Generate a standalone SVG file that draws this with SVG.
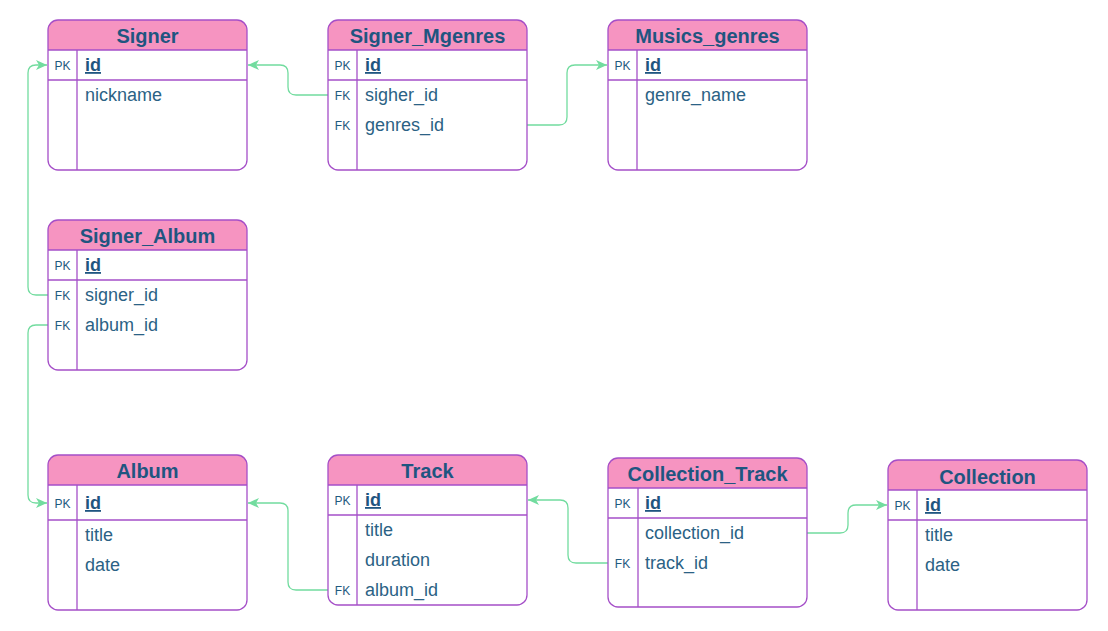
<svg xmlns="http://www.w3.org/2000/svg" width="1108" height="631" viewBox="0 0 1108 631">
<defs>
<style>
.hdr{fill:#f694c1;}
.box{fill:none;stroke:#a54fc8;stroke-width:1.3;}
.ln{stroke:#a54fc8;stroke-width:1.3;fill:none;}
.title{font-family:"Liberation Sans",Arial,sans-serif;font-size:20px;font-weight:bold;fill:#1f5580;text-anchor:middle;}
.key{font-family:"Liberation Sans",Arial,sans-serif;font-size:12px;fill:#1f5a80;text-anchor:middle;}
.fld{font-family:"Liberation Sans",Arial,sans-serif;font-size:18px;fill:#2b6285;}
.pk{font-family:"Liberation Sans",Arial,sans-serif;font-size:18px;fill:#1f5580;font-weight:bold;text-decoration:underline;}
.conn{fill:none;stroke:#72dc9f;stroke-width:1.3;}
</style>
<marker id="arr" markerUnits="userSpaceOnUse" markerWidth="12" markerHeight="10" refX="11" refY="5" orient="auto">
<path d="M0,0 L11,5 L0,10 L3,5 Z" fill="#72dc9f"/>
</marker>
</defs>
<rect width="1108" height="631" fill="#ffffff"/>

<g id="connectors">
<path class="conn" d="M328,95 H296 Q288,95 288,87 V73 Q288,65 280,65 H248" marker-end="url(#arr)"/>
<path class="conn" d="M527,125 H559 Q567,125 567,117 V73 Q567,65 575,65 H607" marker-end="url(#arr)"/>
<path class="conn" d="M48,295 H36 Q28,295 28,287 V73 Q28,65 36,65 H47" marker-end="url(#arr)"/>
<path class="conn" d="M48,325 H36 Q28,325 28,333 V495 Q28,503 36,503 H47" marker-end="url(#arr)"/>
<path class="conn" d="M328,590 H296 Q288,590 288,582 V511 Q288,503 280,503 H248" marker-end="url(#arr)"/>
<path class="conn" d="M608,563 H576 Q568,563 568,555 V508 Q568,500 560,500 H528" marker-end="url(#arr)"/>
<path class="conn" d="M807,533 H840 Q848,533 848,525 V513 Q848,505 856,505 H887" marker-end="url(#arr)"/>
</g>

<g id="Signer">
<path class="hdr" d="M48,50 V30 Q48,20 58,20 H237 Q247,20 247,30 V50 Z"/>
<line class="ln" x1="48" y1="50" x2="247" y2="50"/>
<line class="ln" x1="48" y1="80" x2="247" y2="80"/>
<line class="ln" x1="77" y1="50" x2="77" y2="170"/>
<rect class="box" x="48" y="20" width="199" height="150" rx="10"/>
<text class="title" x="147.5" y="43">Signer</text>
<text class="key" x="62.5" y="69.5">PK</text>
<text class="pk" x="85" y="71">id</text>
<text class="fld" x="85" y="101">nickname</text>
</g>

<g id="Signer_Mgenres">
<path class="hdr" d="M328,50 V30 Q328,20 338,20 H517 Q527,20 527,30 V50 Z"/>
<line class="ln" x1="328" y1="50" x2="527" y2="50"/>
<line class="ln" x1="328" y1="80" x2="527" y2="80"/>
<line class="ln" x1="357" y1="50" x2="357" y2="170"/>
<rect class="box" x="328" y="20" width="199" height="150" rx="10"/>
<text class="title" x="427.5" y="43">Signer_Mgenres</text>
<text class="key" x="342.5" y="69.5">PK</text>
<text class="pk" x="365" y="71">id</text>
<text class="key" x="342.5" y="99.5">FK</text>
<text class="fld" x="365" y="101">sigher_id</text>
<text class="key" x="342.5" y="129.5">FK</text>
<text class="fld" x="365" y="131">genres_id</text>
</g>

<g id="Musics_genres">
<path class="hdr" d="M608,50 V30 Q608,20 618,20 H797 Q807,20 807,30 V50 Z"/>
<line class="ln" x1="608" y1="50" x2="807" y2="50"/>
<line class="ln" x1="608" y1="80" x2="807" y2="80"/>
<line class="ln" x1="637" y1="50" x2="637" y2="170"/>
<rect class="box" x="608" y="20" width="199" height="150" rx="10"/>
<text class="title" x="707.5" y="43">Musics_genres</text>
<text class="key" x="622.5" y="69.5">PK</text>
<text class="pk" x="645" y="71">id</text>
<text class="fld" x="645" y="101">genre_name</text>
</g>

<g id="Signer_Album">
<path class="hdr" d="M48,250 V230 Q48,220 58,220 H237 Q247,220 247,230 V250 Z"/>
<line class="ln" x1="48" y1="250" x2="247" y2="250"/>
<line class="ln" x1="48" y1="280" x2="247" y2="280"/>
<line class="ln" x1="77" y1="250" x2="77" y2="370"/>
<rect class="box" x="48" y="220" width="199" height="150" rx="10"/>
<text class="title" x="147.5" y="243">Signer_Album</text>
<text class="key" x="62.5" y="269.5">PK</text>
<text class="pk" x="85" y="271">id</text>
<text class="key" x="62.5" y="299.5">FK</text>
<text class="fld" x="85" y="301">signer_id</text>
<text class="key" x="62.5" y="329.5">FK</text>
<text class="fld" x="85" y="331">album_id</text>
</g>

<g id="Album">
<path class="hdr" d="M48,485 V465 Q48,455 58,455 H237 Q247,455 247,465 V485 Z"/>
<line class="ln" x1="48" y1="485" x2="247" y2="485"/>
<line class="ln" x1="48" y1="520" x2="247" y2="520"/>
<line class="ln" x1="77" y1="485" x2="77" y2="610"/>
<rect class="box" x="48" y="455" width="199" height="155" rx="10"/>
<text class="title" x="147.5" y="478">Album</text>
<text class="key" x="62.5" y="507.5">PK</text>
<text class="pk" x="85" y="509">id</text>
<text class="fld" x="85" y="541">title</text>
<text class="fld" x="85" y="571">date</text>
</g>

<g id="Track">
<path class="hdr" d="M328,485 V465 Q328,455 338,455 H517 Q527,455 527,465 V485 Z"/>
<line class="ln" x1="328" y1="485" x2="527" y2="485"/>
<line class="ln" x1="328" y1="515" x2="527" y2="515"/>
<line class="ln" x1="357" y1="485" x2="357" y2="605"/>
<rect class="box" x="328" y="455" width="199" height="150" rx="10"/>
<text class="title" x="427.5" y="478">Track</text>
<text class="key" x="342.5" y="504.5">PK</text>
<text class="pk" x="365" y="506">id</text>
<text class="fld" x="365" y="536">title</text>
<text class="fld" x="365" y="566">duration</text>
<text class="key" x="342.5" y="594.5">FK</text>
<text class="fld" x="365" y="596">album_id</text>
</g>

<g id="Collection_Track">
<path class="hdr" d="M608,488 V468 Q608,458 618,458 H797 Q807,458 807,468 V488 Z"/>
<line class="ln" x1="608" y1="488" x2="807" y2="488"/>
<line class="ln" x1="608" y1="518" x2="807" y2="518"/>
<line class="ln" x1="638" y1="488" x2="638" y2="607"/>
<rect class="box" x="608" y="458" width="199" height="149" rx="10"/>
<text class="title" x="707.5" y="481">Collection_Track</text>
<text class="key" x="622.5" y="507.5">PK</text>
<text class="pk" x="645" y="509">id</text>
<text class="fld" x="645" y="539">collection_id</text>
<text class="key" x="622.5" y="567.5">FK</text>
<text class="fld" x="645" y="569">track_id</text>
</g>

<g id="Collection">
<path class="hdr" d="M888,490 V470 Q888,460 898,460 H1077 Q1087,460 1087,470 V490 Z"/>
<line class="ln" x1="888" y1="490" x2="1087" y2="490"/>
<line class="ln" x1="888" y1="520" x2="1087" y2="520"/>
<line class="ln" x1="917" y1="490" x2="917" y2="610"/>
<rect class="box" x="888" y="460" width="199" height="150" rx="10"/>
<text class="title" x="987.5" y="484">Collection</text>
<text class="key" x="902.5" y="509.5">PK</text>
<text class="pk" x="925" y="511">id</text>
<text class="fld" x="925" y="541">title</text>
<text class="fld" x="925" y="571">date</text>
</g>
</svg>
